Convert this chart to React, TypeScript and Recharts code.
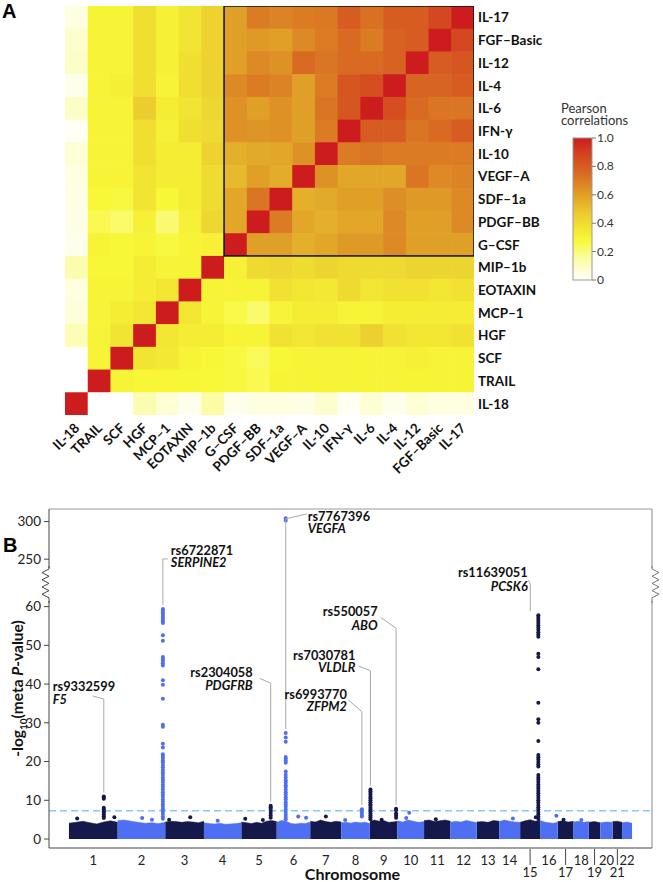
import React from 'react';
import {
  ScatterChart,
  ComposedChart,
  Scatter,
  Area,
  XAxis,
  YAxis,
  ReferenceLine,
} from 'recharts';

const FONT = 'Lato, "Open Sans", sans-serif';

// ---------------- Panel A data ----------------
// column order (left -> right) == row order (bottom -> top)
const cytokines = [
  'IL-18', 'TRAIL', 'SCF', 'HGF', 'MCP–1', 'EOTAXIN', 'MIP–1b', 'G–CSF', 'PDGF–BB',
  'SDF–1a', 'VEGF–A', 'IL-10', 'IFN-γ', 'IL-6', 'IL-4', 'IL-12', 'FGF–Basic', 'IL-17',
];

// rows listed top -> bottom (IL-17 first), columns in cytokines order
const corrIL17 = [0.05, 0.3, 0.3, 0.39, 0.31, 0.37, 0.44, 0.6, 0.7, 0.68, 0.7, 0.71, 0.8, 0.73, 0.8, 0.8, 0.87, 1];
const corrFGF = [0.08, 0.3, 0.3, 0.39, 0.31, 0.37, 0.44, 0.6, 0.62, 0.6, 0.66, 0.7, 0.75, 0.7, 0.78, 0.8, 1, 0.87];
const corrIL12 = [0.09, 0.3, 0.3, 0.39, 0.31, 0.39, 0.44, 0.6, 0.66, 0.64, 0.75, 0.72, 0.75, 0.75, 0.78, 1, 0.8, 0.82];
const corrIL4 = [0.03, 0.3, 0.32, 0.39, 0.3, 0.39, 0.44, 0.66, 0.7, 0.68, 0.6, 0.7, 0.82, 0.85, 1, 0.77, 0.77, 0.8];
const corrIL6 = [0.09, 0.3, 0.3, 0.46, 0.33, 0.37, 0.42, 0.64, 0.6, 0.64, 0.6, 0.72, 0.82, 1, 0.85, 0.75, 0.72, 0.72];
const corrIFN = [0.02, 0.3, 0.3, 0.39, 0.31, 0.39, 0.41, 0.64, 0.63, 0.64, 0.6, 0.7, 1, 0.8, 0.8, 0.72, 0.75, 0.8];
const corrIL10 = [0.07, 0.3, 0.3, 0.39, 0.33, 0.33, 0.44, 0.55, 0.57, 0.58, 0.64, 1, 0.7, 0.72, 0.7, 0.7, 0.7, 0.7];
const corrVEGF = [0.05, 0.3, 0.3, 0.37, 0.33, 0.33, 0.4, 0.52, 0.6, 0.56, 1, 0.64, 0.58, 0.58, 0.58, 0.72, 0.66, 0.68];
const corrSDF = [0.04, 0.28, 0.27, 0.37, 0.29, 0.33, 0.4, 0.58, 0.72, 1, 0.55, 0.57, 0.6, 0.6, 0.65, 0.62, 0.62, 0.66];
const corrPDGF = [0.04, 0.25, 0.22, 0.31, 0.21, 0.31, 0.42, 0.58, 1, 0.7, 0.58, 0.55, 0.58, 0.58, 0.66, 0.6, 0.6, 0.66];
const corrGCSF = [0.03, 0.3, 0.29, 0.3, 0.27, 0.3, 0.31, 1, 0.6, 0.6, 0.55, 0.58, 0.62, 0.62, 0.66, 0.6, 0.6, 0.6];
const corrMIP = [0.13, 0.29, 0.29, 0.33, 0.3, 0.3, 1, 0.31, 0.41, 0.42, 0.4, 0.43, 0.41, 0.41, 0.41, 0.43, 0.43, 0.43];
const corrEOT = [0.05, 0.3, 0.3, 0.33, 0.36, 1, 0.3, 0.3, 0.3, 0.38, 0.36, 0.35, 0.41, 0.36, 0.38, 0.38, 0.36, 0.38];
const corrMCP = [0.06, 0.3, 0.33, 0.36, 1, 0.36, 0.3, 0.26, 0.22, 0.3, 0.33, 0.33, 0.3, 0.3, 0.33, 0.33, 0.33, 0.33];
const corrHGF = [0.12, 0.3, 0.37, 1, 0.36, 0.33, 0.33, 0.3, 0.3, 0.38, 0.36, 0.38, 0.38, 0.45, 0.38, 0.36, 0.36, 0.38];
const corrSCF = [0, 0.3, 1, 0.37, 0.35, 0.3, 0.29, 0.27, 0.24, 0.29, 0.3, 0.3, 0.3, 0.3, 0.3, 0.31, 0.3, 0.3];
const corrTRAIL = [0, 1, 0.3, 0.29, 0.29, 0.29, 0.28, 0.27, 0.25, 0.3, 0.3, 0.3, 0.3, 0.3, 0.3, 0.3, 0.3, 0.3];
const corrIL18 = [1, 0, 0, 0.13, 0.07, 0.03, 0.15, 0.03, 0.05, 0.05, 0.04, 0.08, 0.02, 0.07, 0.03, 0.07, 0.05, 0.05];

const corrRows = [
  corrIL17, corrFGF, corrIL12, corrIL4, corrIL6, corrIFN, corrIL10, corrVEGF, corrSDF,
  corrPDGF, corrGCSF, corrMIP, corrEOT, corrMCP, corrHGF, corrSCF, corrTRAIL, corrIL18,
];
// first cytokine (column/row index) of the highlighted cluster
const clusterStart = 7;
const legendTicks = [0, 0.2, 0.4, 0.6, 0.8, 1.0];

const colorStops: [number, string][] = [
  [0, '#ffffff'], [0.15, '#fcfca4'], [0.28, '#f8f838'], [0.36, '#f2e632'], [0.45, '#ecd030'],
  [0.6, '#e0a028'], [0.75, '#d86a22'], [0.9, '#d2401f'], [1, '#cc1c1e'],
];

function hexToRgb(h: string) {
  return [parseInt(h.slice(1, 3), 16), parseInt(h.slice(3, 5), 16), parseInt(h.slice(5, 7), 16)];
}
function corrColor(v: number) {
  for (let i = 1; i < colorStops.length; i++) {
    const [v1, c1] = colorStops[i];
    const [v0, c0] = colorStops[i - 1];
    if (v <= v1) {
      const t = (v - v0) / (v1 - v0);
      const a = hexToRgb(c0), b = hexToRgb(c1);
      const m = a.map((x, k) => Math.round(x + (b[k] - x) * t));
      return `rgb(${m[0]},${m[1]},${m[2]})`;
    }
  }
  return colorStops[colorStops.length - 1][1];
}

const N = cytokines.length;
const heatCells = corrRows.flatMap((row, r) =>
  row.map((v, c) => ({ x: c + 0.5, y: N - r - 0.5, v }))
);
const heatTicks = cytokines.map((_, i) => i + 0.5);
const clusterSize = N - clusterStart;
const clusterCenter = [{ x: clusterStart + clusterSize / 2, y: clusterStart + clusterSize / 2, n: clusterSize }];

const HEAT_W = 409;
const CELL = HEAT_W / N;

const renderHeatCell = (p: any) => (
  <rect
    x={p.cx - CELL / 2}
    y={p.cy - CELL / 2}
    width={CELL + 0.6}
    height={CELL + 0.6}
    fill={corrColor(p.payload.v)}
  />
);

const renderClusterBox = (p: any) => {
  const s = p.payload.n * CELL;
  return <rect x={p.cx - s / 2} y={p.cy - s / 2} width={s} height={s} fill="none" stroke="#111" strokeWidth={1.5} />;
};

const ColTick = (p: any) => {
  const name = cytokines[Math.round(p.payload.value - 0.5)];
  return (
    <text
      transform={`translate(${p.x + 4},${p.y + 14}) rotate(-45)`}
      textAnchor="end"
      fontSize={13.5}
      fontWeight={700}
      fill="#111"
      fontFamily={FONT}
    >
      {name}
    </text>
  );
};

const RowTick = (p: any) => {
  const name = cytokines[Math.round(p.payload.value - 0.5)];
  return (
    <text x={p.x + 4} y={p.y + 5} textAnchor="start" fontSize={13.5} fontWeight={700} fill="#111" fontFamily={FONT}>
      {name}
    </text>
  );
};

// ---------------- Panel B data ----------------
const chromNames = ['1', '2', '3', '4', '5', '6', '7', '8', '9', '10', '11', '12', '13', '14', '15', '16', '17', '18', '19', '20', '21', '22'];
const chromLengths = [249, 243, 198, 191, 181, 171, 159, 146, 141, 136, 135, 134, 115, 107, 102, 90, 81, 78, 59, 63, 48, 51];
const lowerLabelChroms = ['15', '17', '19', '21'];

// upper envelope of the dense band of SNPs, per chromosome
const bandCeiling = [
  [4.1, 4.3, 4.6, 4.2, 3.9, 4.4, 4.7, 4.3],
  [4.8, 4.9, 4.6, 4.3, 4.1, 4.2, 4.0, 4.3],
  [4.4, 4.6, 4.5, 4.3, 4.5, 4.4, 4.2, 4.6],
  [4.2, 4.0, 3.9, 4.1, 3.8, 3.9, 4.0, 4.2],
  [4.4, 4.2, 4.0, 4.3, 4.1, 4.6, 4.8, 4.5],
  [4.3, 4.8, 4.6, 4.0, 3.9, 4.1, 4.0, 4.4],
  [4.6, 4.4, 4.9, 4.5, 4.3, 4.6, 4.4],
  [4.2, 4.3, 4.1, 4.4, 4.2, 4.3, 4.0],
  [4.5, 4.9, 4.6, 4.8, 4.3, 4.4, 4.6],
  [4.7, 4.4, 4.9, 4.6, 4.3, 4.5],
  [4.8, 4.9, 4.5, 4.7, 4.9, 4.6],
  [4.3, 4.6, 4.4, 4.8, 4.5, 4.2],
  [4.4, 4.5, 4.3, 4.8, 4.6],
  [4.5, 4.9, 4.6, 4.4, 4.3],
  [4.3, 4.7, 5.0, 4.6, 4.9],
  [4.8, 4.4, 4.2, 4.1, 4.3],
  [4.5, 4.7, 4.4, 4.6],
  [4.4, 4.6, 4.3, 4.5],
  [4.3, 4.5, 4.2],
  [4.2, 4.4, 4.3],
  [4.5, 4.6, 4.3],
  [4.2, 4.4, 4.1],
];

// isolated SNPs just above the band: [chromosome, position (Mb), -log10 P]
const strayPoints: [string, number, number][] = [
  ['1', 42, 5.3], ['1', 232, 5.6], ['2', 125, 5.4], ['2', 175, 5.0], ['3', 20, 5.0], ['3', 128, 5.6],
  ['4', 70, 4.7], ['5', 20, 5.2], ['5', 110, 4.9], ['6', 110, 5.8], ['6', 150, 5.5], ['7', 80, 5.8],
  ['8', 20, 4.9], ['9', 60, 5.0], ['10', 45, 5.4], ['10', 60, 6.8], ['11', 60, 5.1], ['14', 70, 5.3],
  ['15', 80, 5.6], ['16', 83, 6.0], ['17', 30, 5.0], ['18', 40, 4.9],
];

const f5Values = [11.0, 10.7, 10.4, 8.1, 7.7, 7.2, 6.8, 6.3, 5.9, 5.4];
const serpine2Values = [59.4, 59.0, 58.5, 58.1, 57.6, 57.2, 56.7, 56.2, 55.8, 52.6, 51.2, 47.0, 46.5, 46.0, 45.4, 44.8, 41.0, 39.8, 36.2, 29.5, 29.0, 24.6, 23.6, 21.9, 21.4, 20.9, 20.3, 19.8, 19.1, 18.5, 17.8, 17.2, 16.6, 15.9, 15.3, 14.7, 14.0, 13.4, 12.8, 12.1, 11.5, 10.9, 10.2, 9.6, 9.0, 8.3, 7.7, 7.1, 6.5, 5.8, 5.2];
const pdgfrbValues = [8.6, 8.2, 7.8, 7.3, 6.7, 6.1, 5.5];
const vegfaValues = [304.5, 301.5, 27.4, 26.2, 25.1, 21.2, 20.7, 20.2, 19.7, 17.4, 16.6, 15.9, 15.2, 14.6, 13.9, 13.4, 12.7, 12.1, 11.5, 10.8, 10.2, 9.5, 8.9, 8.3, 7.6, 7.0, 6.3, 5.7, 5.1];
const zfpm2Values = [7.7, 7.3, 6.8, 6.2, 5.8];
const vldlrValues = [12.8, 12.3, 11.9, 11.4, 10.9, 10.5, 10.0, 9.5, 9.0, 8.6, 8.1, 7.6, 7.1, 6.6, 6.1, 5.6, 5.1];
const aboValues = [7.8, 7.4, 6.6, 6.1, 5.5];
const pcsk6Values = [57.8, 57.3, 56.8, 56.3, 55.8, 55.2, 54.6, 54.0, 53.4, 52.8, 52.2, 47.8, 47.0, 43.8, 35.2, 30.9, 30.0, 25.3, 21.7, 21.1, 20.5, 19.9, 19.3, 18.7, 16.5, 15.9, 15.3, 14.7, 14.1, 13.5, 13.0, 12.4, 11.8, 11.2, 10.6, 10.0, 9.4, 8.8, 8.2, 7.6, 7.0, 6.4, 5.8, 5.2];

const peakLoci = [
  { chr: '1', pos: 178, values: f5Values },
  { chr: '2', pos: 231, values: serpine2Values },
  { chr: '5', pos: 150, values: pdgfrbValues },
  { chr: '6', pos: 46, values: vegfaValues },
  { chr: '8', pos: 105, values: zfpm2Values },
  { chr: '9', pos: 3, values: vldlrValues },
  { chr: '9', pos: 134, values: aboValues },
  { chr: '15', pos: 93, values: pcsk6Values },
];

const annotations = [
  { snp: 'rs9332599', gene: 'F5', chr: '1', pos: 178, top: 11.0 },
  { snp: 'rs6722871', gene: 'SERPINE2', chr: '2', pos: 231, top: 59.4 },
  { snp: 'rs7767396', gene: 'VEGFA', chr: '6', pos: 46, top: 27.4 },
  { snp: 'rs2304058', gene: 'PDGFRB', chr: '5', pos: 150, top: 8.6 },
  { snp: 'rs6993770', gene: 'ZFPM2', chr: '8', pos: 105, top: 7.7 },
  { snp: 'rs7030781', gene: 'VLDLR', chr: '9', pos: 3, top: 12.8 },
  { snp: 'rs550057', gene: 'ABO', chr: '9', pos: 134, top: 7.8 },
  { snp: 'rs11639051', gene: 'PCSK6', chr: '15', pos: 93, top: 57.8 },
];

const yTickLabels = [0, 10, 20, 30, 40, 50, 60, 250, 300];
const significance = 7.3;

// label placement (pixels, relative to the top SNP of each peak)
const annotationLayout: Record<string, any> = {
  rs9332599: { up: 97.4, vx: 0, ldx: -11, ldy: -3, tx: -51, anchor: 'start', ry: -8, gy: 4.5 },
  rs6722871: { up: 50, vx: 0, ldx: 5, ldy: 0, tx: 8, anchor: 'start', ry: -3.5, gy: 8.5 },
  rs7767396: { up: 214, vx: 0, ldx: 21, ldy: -5, tx: 22, anchor: 'start', ry: 2.5, gy: 14.5 },
  rs2304058: { up: 122.4, vx: 0, ldx: -11, ldy: -5, tx: -18, anchor: 'end', ry: -6, gy: 7 },
  rs6993770: { up: 97.5, vx: 0, ldx: -13.5, ldy: -11.7, tx: -15, anchor: 'end', ry: -13, gy: -0.5 },
  rs7030781: { up: 118.7, vx: 0, ldx: -12, ldy: -4.7, tx: -15, anchor: 'end', ry: -11, gy: 1 },
  rs550057: { up: 180.5, vx: 0, ldx: -15.5, ldy: -11, tx: -18.5, anchor: 'end', ry: -12.3, gy: 1.2 },
  rs11639051: { up: 31, vx: -8, ldx: -2, ldy: -4, tx: -10.6, anchor: 'end', ry: -7.2, gy: 6.5 },
};

const DARK = '#15184a';
const LIGHT = '#4f6ff2';

// broken axis: 0..65 linear, then 250..310 compressed above the break
const breakBase = 72.24;
const upperFactor = 0.1942;
const tf = (v: number) => (v <= 65 ? v : breakBase + (v - 250) * upperFactor);

const chromStarts: number[] = [];
chromLengths.forEach((len, i) => {
  chromStarts.push(i === 0 ? 0 : chromStarts[i - 1] + chromLengths[i - 1]);
});
const chromIndex = (c: string) => chromNames.indexOf(c);
const chromCenters = chromLengths.map((len, i) => chromStarts[i] + len / 2);
const isDark = (c: string) => chromIndex(c) % 2 === 0;

const bandRows: any[] = [];
bandCeiling.forEach((vals, i) => {
  const key = i % 2 === 0 ? 'dark' : 'light';
  const other = key === 'dark' ? 'light' : 'dark';
  vals.forEach((v, j) => {
    bandRows.push({ x: chromStarts[i] + (j * chromLengths[i]) / (vals.length - 1), [key]: v, [other]: null });
  });
});

const darkPoints: any[] = [];
const lightPoints: any[] = [];
peakLoci.forEach((l) => {
  const x = chromStarts[chromIndex(l.chr)] + l.pos;
  l.values.forEach((v) => (isDark(l.chr) ? darkPoints : lightPoints).push({ x, y: tf(v) }));
});
strayPoints.forEach(([c, pos, v]) => {
  const x = chromStarts[chromIndex(c)] + pos;
  (isDark(c) ? darkPoints : lightPoints).push({ x, y: tf(v) });
});
const annotationPoints = annotations.map((a) => ({
  ...a,
  x: chromStarts[chromIndex(a.chr)] + a.pos,
  y: tf(a.top),
}));

const genomeLen = chromStarts[21] + chromLengths[21];
const xDomain = [-102, genomeLen + 102];
const yDomain = [-2.32, 85.2];

const dot = (color: string) => (p: any) => <circle cx={p.cx} cy={p.cy} r={2} fill={color} />;

const AnnotationMark = (p: any) => {
  const a = p.payload;
  const L = annotationLayout[a.snp];
  const lx = p.cx + L.vx;
  const ey = p.cy - L.up;
  return (
    <g fontFamily={FONT}>
      <polyline
        points={`${lx},${p.cy - 4} ${lx},${ey} ${lx + L.ldx},${ey + L.ldy}`}
        fill="none"
        stroke="#aaaaaa"
        strokeWidth={1}
      />
      <text x={p.cx + L.tx} y={ey + L.ry} textAnchor={L.anchor} fontSize={12.8} fontWeight={700} fill="#111">
        {a.snp}
      </text>
      <text x={p.cx + L.tx} y={ey + L.gy} textAnchor={L.anchor} fontSize={12.8} fontWeight={700} fontStyle="italic" fill="#111">
        {a.gene}
      </text>
    </g>
  );
};

const ChromTick = (p: any) => {
  const i = chromCenters.indexOf(p.payload.value);
  const name = chromNames[i];
  const low = lowerLabelChroms.includes(name);
  return (
    <g fontFamily={FONT}>
      {low && <line x1={p.x} x2={p.x} y1={p.y + 1} y2={p.y + 17} stroke="#444" strokeWidth={1} />}
      <text x={p.x} y={low ? p.y + 28.5 : p.y + 16.5} textAnchor="middle" fontSize={13} fill="#222">
        {name}
      </text>
    </g>
  );
};

const YTitle = (props: any) => {
  const vb = props.viewBox || { y: 29, height: 339 };
  const cy = vb.y + vb.height / 2 + 10;
  return (
    <text transform={`translate(23,${cy}) rotate(-90)`} textAnchor="middle" fontSize={15.5} fontWeight={700} fill="#111" fontFamily={FONT}>
      <tspan>-log</tspan>
      <tspan dy={4} fontSize={10}>10</tspan>
      <tspan dy={-4}>(meta </tspan>
      <tspan fontStyle="italic">P</tspan>
      <tspan>-value)</tspan>
    </text>
  );
};

const XTitle = (props: any) => {
  const vb = props.viewBox || { x: 49, y: 368, width: 603 };
  return (
    <text x={vb.x + vb.width / 2 + 2} y={vb.y + 32} textAnchor="middle" fontSize={16} fontWeight={700} fill="#111" fontFamily={FONT}>
      Chromosome
    </text>
  );
};

const ColorBar = () => {
  const x = 573, y = 138, w = 19, h = 142;
  return (
    <svg width={663} height={300} style={{ position: 'absolute', left: 0, top: 0, pointerEvents: 'none' }} fontFamily={FONT}>
      <defs>
        <linearGradient id="corrGrad" x1="0" y1="1" x2="0" y2="0">
          {colorStops.map(([v, c]) => (
            <stop key={v} offset={v} stopColor={c} />
          ))}
        </linearGradient>
      </defs>
      <text x={561} y={112.5} fontSize={13} fill="#333">Pearson</text>
      <text x={561} y={125} fontSize={13} fill="#333">correlations</text>
      <rect x={x} y={y} width={w} height={h} fill="url(#corrGrad)" stroke="#9a9a9a" strokeWidth={1} />
      {legendTicks.map((v) => {
        const ty = y + (1 - v) * h;
        return (
          <g key={v}>
            <line x1={x + w} x2={x + w + 4} y1={ty} y2={ty} stroke="#777" />
            <text x={x + w + 5} y={ty + 4} fontSize={12} fill="#333">
              {v === 0 ? '0' : v.toFixed(1)}
            </text>
          </g>
        );
      })}
    </svg>
  );
};

const BreakMarks = () => {
  const zig = (x0: number, dir: number) => {
    const pts: string[] = [`${x0},86`, `${x0},89`];
    let yy = 89;
    let k = 0;
    while (yy < 117) {
      yy += 3.6;
      pts.push(`${x0 + (k % 2 === 0 ? dir * 7 : 0)},${yy}`);
      k++;
    }
    pts.push(`${x0},121`, `${x0},123`);
    return pts.join(' ');
  };
  return (
    <svg width={663} height={130} style={{ position: 'absolute', left: 0, top: 0, pointerEvents: 'none' }}>
      <rect x={46} y={88} width={6} height={33} fill="#fff" />
      <rect x={649} y={88} width={6} height={33} fill="#fff" />
      <polyline points={zig(49, -1)} fill="none" stroke="#444" strokeWidth={1} />
      <polyline points={zig(652, 1)} fill="none" stroke="#777" strokeWidth={1} />
    </svg>
  );
};

export default function App() {
  return (
    <div style={{ position: 'absolute', left: 0, top: 0, width: 663, height: 882, background: '#fff', fontFamily: FONT, overflow: 'hidden' }}>
      <div style={{ position: 'absolute', left: 2, top: 0, fontFamily: '"Liberation Sans", Arial, sans-serif', fontWeight: 700, fontSize: 20 }}>A</div>
      <div style={{ position: 'absolute', left: 0, top: 0, width: 663, height: 480 }}>
        <ScatterChart width={663} height={480} margin={{ top: 6, right: 89, bottom: 5, left: 65 }}>
          <XAxis
            type="number"
            dataKey="x"
            domain={[0, N]}
            ticks={heatTicks}
            interval={0}
            axisLine={false}
            tickLine={false}
            tickSize={0}
            tickMargin={0}
            height={60}
            tick={<ColTick />}
            allowDataOverflow
          />
          <YAxis
            type="number"
            dataKey="y"
            domain={[0, N]}
            ticks={heatTicks}
            interval={0}
            orientation="right"
            width={100}
            axisLine={false}
            tickLine={false}
            tickSize={0}
            tickMargin={0}
            tick={<RowTick />}
            allowDataOverflow
          />
          <Scatter data={heatCells} shape={renderHeatCell} isAnimationActive={false} />
          <Scatter data={clusterCenter} shape={renderClusterBox} isAnimationActive={false} />
        </ScatterChart>
        <ColorBar />
      </div>

      <div style={{ position: 'absolute', left: 3, top: 534, fontFamily: '"Liberation Sans", Arial, sans-serif', fontWeight: 700, fontSize: 20 }}>B</div>
      <div style={{ position: 'absolute', left: 0, top: 480, width: 663, height: 402 }}>
        <ComposedChart width={663} height={402} data={bandRows} margin={{ top: 29, right: 11, bottom: 0, left: 0 }}>
          <XAxis
            type="number"
            dataKey="x"
            domain={xDomain}
            ticks={chromCenters}
            interval={0}
            tick={<ChromTick />}
            tickSize={0}
            tickMargin={0}
            tickLine={false}
            axisLine={{ stroke: '#444' }}
            height={34}
            allowDataOverflow
            label={{ content: <XTitle /> }}
          />
          <YAxis
            type="number"
            domain={yDomain}
            ticks={yTickLabels.map(tf)}
            interval={0}
            tickFormatter={(v: number) => String(yTickLabels[yTickLabels.map(tf).indexOf(v)])}
            width={49}
            tickSize={5}
            tickMargin={3}
            axisLine={{ stroke: '#444' }}
            tickLine={{ stroke: '#444' }}
            tick={{ fontSize: 13.5, fill: '#222', fontFamily: FONT }}
            allowDataOverflow
            label={{ content: <YTitle /> }}
          />
          <ReferenceLine y={yDomain[1]} stroke="#999" strokeWidth={1} />
          <ReferenceLine x={xDomain[1]} stroke="#888" strokeWidth={1} />
          <Area dataKey="dark" type="linear" baseValue={0} fill={DARK} fillOpacity={1} stroke={DARK} strokeWidth={0.5} isAnimationActive={false} connectNulls={false} dot={false} activeDot={false} />
          <Area dataKey="light" type="linear" baseValue={0} fill={LIGHT} fillOpacity={1} stroke={LIGHT} strokeWidth={0.5} isAnimationActive={false} connectNulls={false} dot={false} activeDot={false} />
          <ReferenceLine y={significance} stroke="#8fc6ee" strokeWidth={1.5} strokeDasharray="7 4" />
          <Scatter data={lightPoints} dataKey="y" shape={dot(LIGHT)} isAnimationActive={false} />
          <Scatter data={darkPoints} dataKey="y" shape={dot(DARK)} isAnimationActive={false} />
          <Scatter data={annotationPoints} dataKey="y" shape={AnnotationMark} isAnimationActive={false} />
        </ComposedChart>
        <BreakMarks />
      </div>
    </div>
  );
}
